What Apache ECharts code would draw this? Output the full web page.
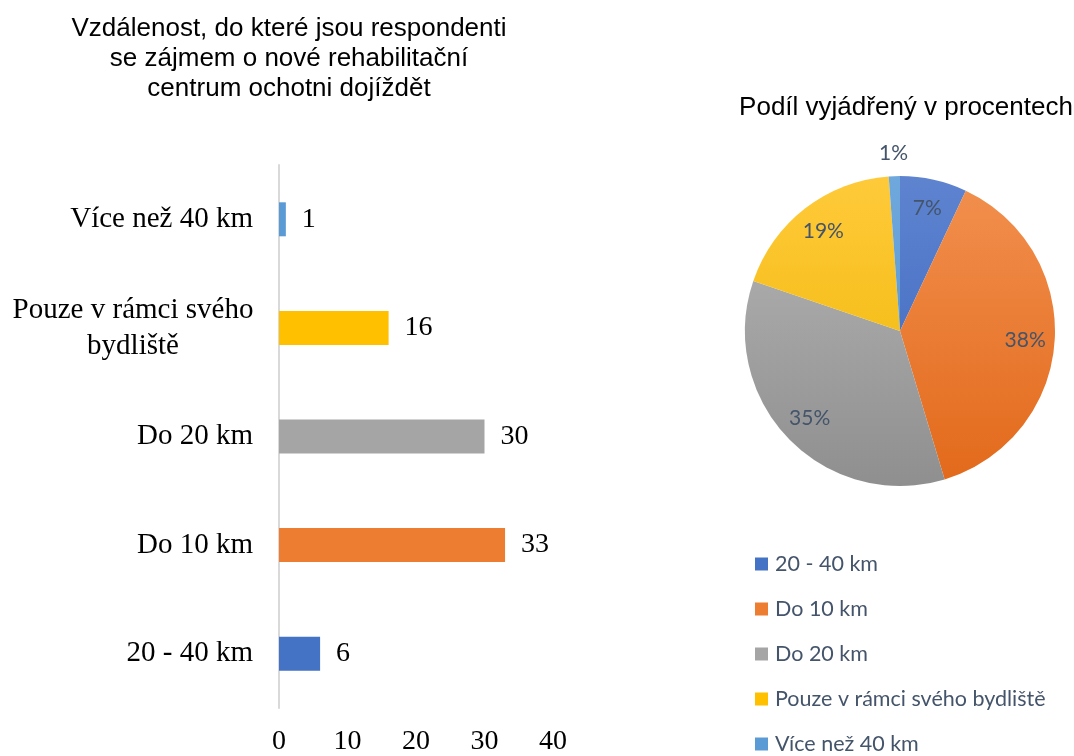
<!DOCTYPE html>
<html>
<head>
<meta charset="utf-8">
<script src="https://cdn.jsdelivr.net/npm/echarts@6/dist/echarts.min.js"></script>
<style>
html,body{margin:0;padding:0;background:#fff;}
#chart{width:1074px;height:756px;}
</style>
</head>
<body>
<div id="chart"></div>
<script>
// Data
const barTitle = 'Vzdálenost, do které jsou respondenti\nse zájmem o nové rehabilitační\ncentrum ochotni dojíždět';
const pieTitle = 'Podíl vyjádřený v procentech';
const categories = ['20 - 40 km', 'Do 10 km', 'Do 20 km', 'Pouze v rámci svého bydliště', 'Více než 40 km'];
const values = [6, 33, 30, 16, 1];
const xTicks = [0, 10, 20, 30, 40];

// Styles
const baseColors = ['#4472C4', '#ED7D31', '#A5A5A5', '#FFC000', '#5B9BD5'];
const topColors = ['#5E84D0', '#F2904F', '#B6B6B6', '#FFCA3A', '#6FA8DC'];
const bottomColors = ['#3A64BC', '#E2691A', '#8F8F8F', '#ECB500', '#4F8FCD'];
const serif = '"Liberation Serif", "Times New Roman", serif';
const sans = '"Liberation Sans", Arial, sans-serif';
const calibri = 'Lato, "Open Sans", sans-serif';
const slate = '#44546A';

const chart = echarts.init(document.getElementById('chart'), null, {renderer: 'canvas'});

function grad(i) {
  return {
    type: 'linear', x: 0, y: 176, x2: 0, y2: 486, global: true,
    colorStops: [{offset: 0, color: topColors[i]}, {offset: 1, color: bottomColors[i]}]
  };
}

const pieData = categories.map((c, i) => ({name: c, value: values[i], itemStyle: {color: grad(i)}}));
const ringData = categories.map((c, i) => ({name: c, value: values[i]}));

const option = {
  backgroundColor: '#ffffff',
  animation: false,
  title: [
    {
      text: barTitle, left: 284, top: 9, textAlign: 'center',
      textStyle: {fontFamily: sans, fontSize: 26, fontWeight: 'normal', color: '#000', lineHeight: 30}
    },
    {
      text: pieTitle, left: 901, top: 88, textAlign: 'center',
      textStyle: {fontFamily: sans, fontSize: 26, fontWeight: 'normal', color: '#000', lineHeight: 30}
    }
  ],
  legend: {
    orient: 'vertical', left: 755, top: 553, height: 300, padding: 0,
    itemWidth: 13, itemHeight: 13, itemGap: 23,
    icon: 'rect',
    textStyle: {fontFamily: calibri, fontSize: 21.5, color: slate, lineHeight: 22, padding: [0, 0, 0, 2]},
    data: categories.map((c, i) => ({name: c, itemStyle: {color: baseColors[i]}}))
  },
  grid: {left: 279, top: 165, width: 274, bottom: 39, containLabel: false},
  xAxis: {
    type: 'value', min: 0, max: 40, interval: 10,
    axisLine: {show: false}, axisTick: {show: false}, splitLine: {show: false},
    axisLabel: {fontFamily: serif, fontSize: 28, color: '#000', margin: 20,
      formatter: v => xTicks.includes(v) ? String(v) : ''}
  },
  yAxis: {
    type: 'category', data: categories,
    axisLine: {show: true, lineStyle: {color: '#D9D9D9', width: 2}},
    axisTick: {show: false},
    axisLabel: {
      fontFamily: serif, fontSize: 29, color: '#000', margin: 26, interval: 0, align: 'right',
      formatter: function (v) {
        if (v.length > 18) {
          const w = v.split(' ');
          const l1 = w.slice(0, 4).join(' ');
          const l2 = w.slice(4).join(' ');
          return '{c|' + l1 + '}\n{c|' + l2 + '}';
        }
        return v;
      },
      rich: {c: {fontFamily: serif, fontSize: 29, color: '#000', width: 240, align: 'center', lineHeight: 36}}
    }
  },
  series: [
    {
      type: 'bar', barWidth: 34,
      data: values.map((v, i) => ({value: v, itemStyle: {color: baseColors[i]}})),
      label: {show: true, position: 'right', distance: 16, fontFamily: serif, fontSize: 28, color: '#000'},
      silent: true
    },
    {
      type: 'pie', center: [900, 331], radius: [0, 155], startAngle: 90, clockwise: true,
      data: pieData, label: {show: false}, labelLine: {show: false}, silent: true,
      itemStyle: {borderWidth: 0}
    },
    {
      type: 'pie', center: [900, 331], radius: [90, 155], startAngle: 90, clockwise: true,
      data: ringData, silent: true,
      itemStyle: {color: 'rgba(0,0,0,0)', borderWidth: 0},
      label: {show: true, position: 'inside', fontFamily: calibri, fontSize: 21, color: slate,
        formatter: p => p.percent >= 3 ? Math.round(p.percent) + '%' : ''},
      labelLine: {show: false}
    },
    {
      type: 'pie', center: [900, 331], radius: [155, 195], startAngle: 90, clockwise: true,
      data: ringData, silent: true,
      itemStyle: {color: 'rgba(0,0,0,0)', borderWidth: 0},
      label: {show: true, position: 'inside', fontFamily: calibri, fontSize: 21, color: slate,
        formatter: p => p.percent < 3 ? Math.round(p.percent) + '%' : ''},
      labelLine: {show: false}
    }
  ]
};
chart.setOption(option);
</script>
</body>
</html>
